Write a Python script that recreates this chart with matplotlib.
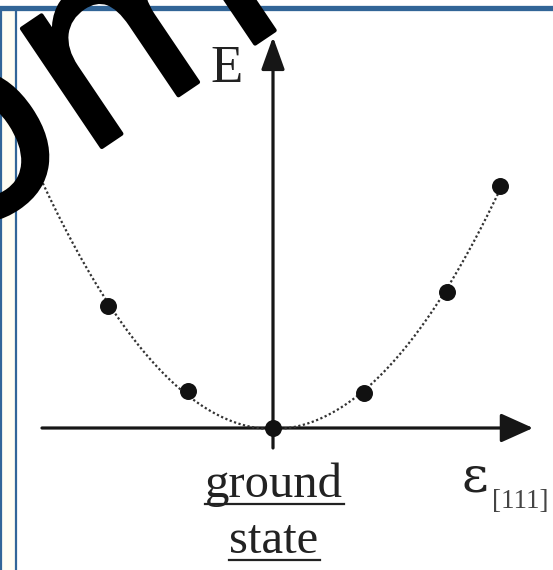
import numpy as np
import matplotlib
matplotlib.use("Agg")
import matplotlib.pyplot as plt
from matplotlib.lines import Line2D
from matplotlib.patches import Rectangle
import matplotlib.patheffects as pe

# Strain along [111] and relative energy of each computed configuration
strain = [-1.94, -1.0, 0.0, 1.07, 2.05, 2.67]
energy = [3.59, 1.09, 0.0, 1.03, 4.0, 7.12]

y_label = "E"
x_label_main = "ε"
x_label_sub = "[111]"
origin_label = ["ground", "state"]
watermark = "com"

W, H = 553, 570
fig = plt.figure(figsize=(W / 100, H / 100), dpi=100)
fig.patch.set_facecolor("white")


def fxy(px, py):
    """pixel position (origin top-left) -> figure fraction"""
    return px / W, 1 - py / H


ax = fig.add_axes([0, 0, 1, 1])
ax.set_xlim(-273 / 85, 280 / 85)
ax.set_ylim(-142 / 34, 428 / 34)
ax.axis("off")
ax.patch.set_visible(False)

ink = "#161616"
serif = "Liberation Serif"

# coordinate axes with arrow heads
ax.annotate("", xy=(3.059, 0), xytext=(-2.718, 0),
            arrowprops=dict(arrowstyle="-|>,head_length=1.0,head_width=0.45",
                            mutation_scale=20, color=ink, lw=2.3,
                            shrinkA=0, shrinkB=0))
ax.annotate("", xy=(0, 11.5), xytext=(0, -0.588),
            arrowprops=dict(arrowstyle="-|>,head_length=1.0,head_width=0.36",
                            mutation_scale=20, color=ink, lw=2.3,
                            shrinkA=0, shrinkB=0))

# quadratic fit through the computed energies
coef = np.polyfit(strain, energy, 2)
s_fit = np.linspace(-2.8, strain[-1], 300)
ax.plot(s_fit, np.polyval(coef, s_fit), ls=(0, (1, 1.1)), color="#333333",
        lw=1.6, zorder=3)
ax.plot(strain, energy, "o", ms=11.2, color="#111111", zorder=5)

# labels
fig.text(*fxy(210, 82), y_label, family=serif, fontsize=38, color="#222222",
         ha="left", va="baseline")
fig.text(*fxy(462, 492), x_label_main, family="DejaVu Serif", fontsize=37,
         color="#222222", ha="left", va="baseline")
fig.text(*fxy(492, 508), x_label_sub, family=serif, fontsize=19.5,
         color="#444444", ha="left", va="baseline")

base_y = [497, 553]
origin_texts = []
for lab, by in zip(origin_label, base_y):
    t = fig.text(*fxy(274, by), lab, family=serif, fontsize=35,
                 color="#222222", ha="center", va="baseline")
    origin_texts.append((t, by))

# frame strip on the left and the top rule
fig.patches.append(Rectangle(fxy(0, 570), 17 / W, 560 / H,
                             transform=fig.transFigure,
                             facecolor="#fffdf3", edgecolor="none", zorder=1))
blue = "#326597"
fig.lines.append(Line2D([0, 1], [1 - 8.3 / H] * 2, transform=fig.transFigure,
                        color=blue, lw=3.8, zorder=2))
for xp in (0.9, 16.2):
    fig.lines.append(Line2D([xp / W] * 2, [0, 1 - 8.3 / H],
                            transform=fig.transFigure, color=blue, lw=1.6,
                            zorder=2))

# underline the origin annotation
fig.canvas.draw()
renderer = fig.canvas.get_renderer()
for t, by in origin_texts:
    bb = t.get_window_extent(renderer)
    yy = 1 - (by + 7) / H
    fig.lines.append(Line2D([bb.x0 / W, (bb.x1 + 1) / W], [yy, yy],
                            transform=fig.transFigure, color="#222222",
                            lw=1.6, zorder=4))

# large rotated overlay text
fig.text(*fxy(293, 18), watermark, family="DejaVu Sans", fontsize=188,
         rotation=34, rotation_mode="anchor", ha="right", va="baseline",
         color="black", zorder=20,
         path_effects=[pe.withStroke(linewidth=3, foreground="black",
                                     capstyle="round", joinstyle="round")])

fig.savefig("out.png", dpi=100)
